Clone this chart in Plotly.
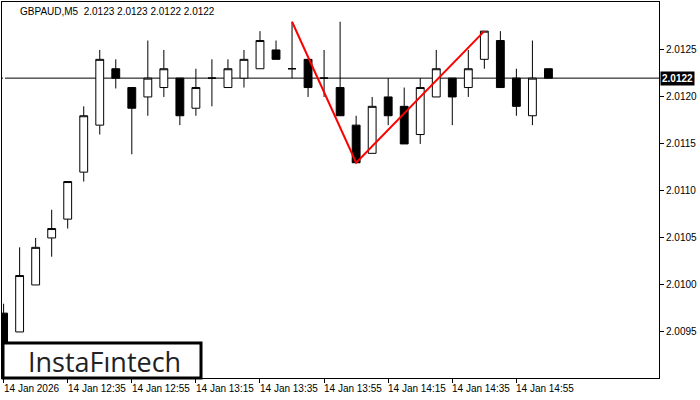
import plotly.graph_objects as go

opens  = [2.0097,2.0095,2.0100,2.0105,2.0107,2.0112,2.0117,2.0123,2.0121,2.0120,2.0121,2.0122,2.01188,2.0122,2.0121,2.0122,2.0123,2.0125,2.0123,
          2.0124,2.0122,2.0121,2.0117,2.0114,2.0120,2.0119,2.0116,2.0120,2.0122,2.0121,2.0124,2.0126,2.0122,2.0118,2.0123]
highs  = [2.0098,2.0104,2.0105,2.0108,2.0111,2.0119,2.0125,2.0124,2.0121,2.0126,2.0125,2.0122,2.0123,2.0124,2.0124,2.0125,2.0127,2.0126,2.0128,
          2.0124,2.0125,2.0128,2.0118,2.0120,2.0122,2.0121,2.0122,2.0125,2.0122,2.0125,2.0127,2.0127,2.0123,2.0126,2.0123]
lows   = [2.0092,2.0095,2.0100,2.0103,2.0106,2.0111,2.0116,2.01209,2.01139,2.0118,2.0120,2.0117,2.0118,2.0119,2.0121,2.0121,2.0123,2.0124,2.0122,
          2.0120,2.0120,2.0118,2.0113,2.0114,2.0117,2.0115,2.0115,2.0120,2.0117,2.0120,2.0123,2.0121,2.0118,2.0117,2.0122]
closes = [2.0093,2.0101,2.0104,2.0106,2.0111,2.0118,2.0124,2.0122,2.01188,2.0122,2.0123,2.0118,2.0121,2.0122,2.0123,2.0124,2.0126,2.0124,2.0123,
          2.0121,2.0122,2.0118,2.0113,2.0119,2.0118,2.0115,2.0121,2.0123,2.0120,2.0123,2.0127,2.0121,2.0119,2.0122,2.0122]
xidx = list(range(len(opens)))
tick_pos = [0,4,8,12,16,20,24,28,32]
tick_labels = ["14 Jan 2026","14 Jan 12:35","14 Jan 12:55","14 Jan 13:15","14 Jan 13:35",
               "14 Jan 13:55","14 Jan 14:15","14 Jan 14:35","14 Jan 14:55"]
y_ticks = [2.0095,2.0100,2.0105,2.0110,2.0115,2.0120,2.0125]
pattern_x = [18,22,30]
pattern_y = [2.0128,2.0113,2.0127]
last_price = 2.0122

fig = go.Figure()
fig.add_trace(go.Candlestick(x=xidx, open=opens, high=highs, low=lows, close=closes,
    increasing=dict(line=dict(color="black", width=1), fillcolor="white"),
    decreasing=dict(line=dict(color="black", width=1), fillcolor="black"),
    whiskerwidth=0, showlegend=False, hoverinfo="skip"))
fig.add_trace(go.Scatter(x=pattern_x, y=pattern_y, mode="lines",
    line=dict(color="#ff0000", width=2), showlegend=False, hoverinfo="skip"))

W, H = 657, 376
ann = [
    dict(x=0.025, y=0.995, xref="paper", yref="paper", xanchor="left", yanchor="top",
         text="GBPAUD,M5  2.0123 2.0123 2.0122 2.0122", showarrow=False, font=dict(size=10)),
    dict(x=1.0, y=last_price, xref="paper", yref="y", xanchor="left", yanchor="middle",
         text="<b>2.0122</b>", showarrow=False, bgcolor="black", font=dict(color="white", size=10),
         borderpad=1, xshift=1),
    dict(x=102/W, y=1-359/H, xref="paper", yref="paper", text="InstaFıntech", showarrow=False,
         font=dict(family="Open Sans", size=27, color="#222", weight=500), xanchor="center", yanchor="middle"),
]
for p, t in zip(tick_pos, tick_labels):
    ann.append(dict(x=p, y=0, xref="x", yref="paper", text=t, showarrow=False,
                    xanchor="left", yanchor="top", yshift=-3, xshift=-2, font=dict(size=10)))

fig.update_layout(
    width=700, height=400, margin=dict(l=2, r=41, t=2, b=22, autoexpand=False),
    paper_bgcolor="white", plot_bgcolor="white",
    font=dict(family="Liberation Sans", size=10, color="black"),
    xaxis=dict(range=[-0.1, 40.9], tickvals=tick_pos, ticktext=[""]*len(tick_pos), showgrid=False,
               rangeslider=dict(visible=False), showline=True, linecolor="black", mirror=True,
               ticks="outside", ticklen=4, tickcolor="black", automargin=False),
    yaxis=dict(range=[2.00901, 2.01301], side="right", tickvals=y_ticks, tickformat=".4f",
               showgrid=False, showline=True, linecolor="black", mirror=True, automargin=False,
               ticks="outside", ticklen=4, tickcolor="black", tickfont=dict(size=10)),
    annotations=ann,
    shapes=[
        dict(type="line", xref="paper", yref="y", x0=0, x1=1, y0=last_price, y1=last_price,
             line=dict(color="black", width=1), layer="below"),
        dict(type="rect", xref="paper", yref="paper", x0=1/W, x1=199/W, y0=0, y1=1-341/H,
             line=dict(color="black", width=3), fillcolor="white", layer="above"),
    ],
)
fig.write_html("out.html", config={"displayModeBar": False},
               post_script="document.body.style.margin='0';")
